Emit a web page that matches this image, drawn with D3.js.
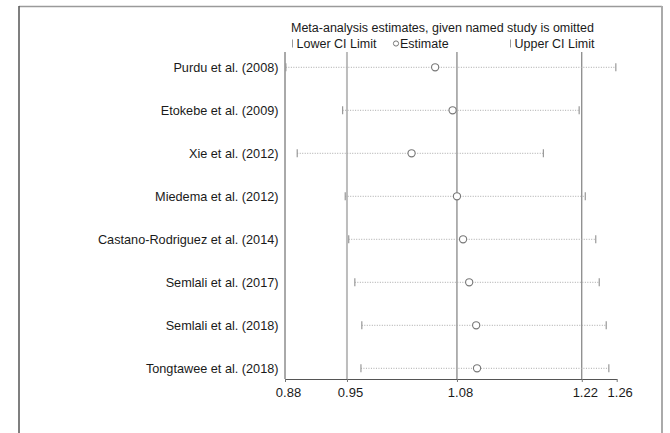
<!DOCTYPE html>
<html>
<head>
<meta charset="utf-8">
<script src="https://cdn.jsdelivr.net/npm/d3@7"></script>
<style>
  html, body { margin: 0; padding: 0; background: #fff; }
  svg { display: block; font-family: "Liberation Sans", Arial, sans-serif; }
</style>
</head>
<body>
<svg id="chart" width="670" height="433"></svg>
<script>
// Leave-one-out influence analysis: pooled estimate when each study is omitted
const studies = [
  "Purdu et al. (2008)",
  "Etokebe et al. (2009)",
  "Xie et al. (2012)",
  "Miedema et al. (2012)",
  "Castano-Rodriguez et al. (2014)",
  "Semlali et al. (2017)",
  "Semlali et al. (2018)",
  "Tongtawee et al. (2018)"
];
const estimates = [1.052, 1.072, 1.025, 1.077, 1.084, 1.091, 1.099, 1.100];
const lowerCI   = [0.881, 0.946, 0.894, 0.949, 0.953, 0.960, 0.968, 0.967];
const upperCI   = [1.259, 1.217, 1.176, 1.224, 1.236, 1.240, 1.248, 1.251];

// Overall pooled estimate and its confidence limits (reference lines)
const pooled = [0.951, 1.077, 1.220];
// Axis ticks: range ends plus the pooled values
const tickValues = [0.88, 0.951, 1.077, 1.220, 1.26];

const title = "Meta-analysis estimates, given named study is omitted";
const legendLabels = ["Lower CI Limit", "Estimate", "Upper CI Limit"];

const svg = d3.select("#chart");
const textColor = "#1a1a1a";

// Outer frame
svg.append("line").attr("x1", 19).attr("x2", 662).attr("y1", 6.5).attr("y2", 6.5)
  .attr("stroke", "#9a9a9a").attr("stroke-width", 1.5);
svg.append("line").attr("x1", 19).attr("x2", 19).attr("y1", 6).attr("y2", 433)
  .attr("stroke", "#555").attr("stroke-width", 1.5);
svg.append("line").attr("x1", 662).attr("x2", 662).attr("y1", 6).attr("y2", 433)
  .attr("stroke", "#aaa").attr("stroke-width", 2);

const x = d3.scaleLinear().domain([0.88, 1.26]).range([285, 616.7]);
const y = d3.scalePoint().domain(studies).range([67.3, 368.3]);
const plotTop = 52;
const axisY = 379;

// Reference lines at the pooled estimate and CI limits
svg.append("g").selectAll("line")
  .data(pooled)
  .join("line")
  .attr("x1", d => x(d)).attr("x2", d => x(d))
  .attr("y1", plotTop).attr("y2", axisY)
  .attr("stroke", (d, i) => i === 0 ? "#bdbdbd" : "#666")
  .attr("stroke-width", (d, i) => i === 0 ? 2 : 1);

// Left boundary line
svg.append("line")
  .attr("x1", x(0.88)).attr("x2", x(0.88))
  .attr("y1", plotTop).attr("y2", axisY)
  .attr("stroke", "#555").attr("stroke-width", 1);

// Bottom axis
const axis = d3.axisBottom(x)
  .tickValues(tickValues)
  .tickFormat(d3.format(".2f"))
  .tickSize(3)
  .tickSizeOuter(0);
const gAxis = svg.append("g")
  .attr("transform", `translate(0,${axisY})`)
  .call(axis);
gAxis.select(".domain").attr("stroke", "#555");
gAxis.selectAll(".tick line").attr("stroke", "#777");
gAxis.selectAll(".tick text")
  .attr("fill", textColor)
  .attr("font-size", 13)
  .attr("font-family", "'Liberation Sans', Arial, sans-serif")
  .attr("dx", 3)
  .attr("dy", "0.95em");

const rows = studies.map((s, i) => ({ s, est: estimates[i], lo: lowerCI[i], hi: upperCI[i] }));

// CI whiskers
const gRows = svg.append("g");
gRows.selectAll("line.ci")
  .data(rows)
  .join("line")
  .attr("class", "ci")
  .attr("x1", d => x(d.lo)).attr("x2", d => x(d.hi))
  .attr("y1", d => y(d.s)).attr("y2", d => y(d.s))
  .attr("stroke", "#a8a8a8").attr("stroke-width", 1)
  .attr("stroke-dasharray", "1,1.5");

// CI end caps
["lo", "hi"].forEach(k => {
  gRows.selectAll(`line.cap-${k}`)
    .data(rows)
    .join("line")
    .attr("class", `cap-${k}`)
    .attr("x1", d => x(d[k])).attr("x2", d => x(d[k]))
    .attr("y1", d => y(d.s) - 4).attr("y2", d => y(d.s) + 4)
    .attr("stroke", "#999").attr("stroke-width", 1.2);
});

// Estimates
gRows.selectAll("circle")
  .data(rows)
  .join("circle")
  .attr("cx", d => x(d.est)).attr("cy", d => y(d.s))
  .attr("r", 3.6)
  .attr("fill", "#fff").attr("stroke", "#777").attr("stroke-width", 1.1);

// Study labels
svg.append("g").selectAll("text")
  .data(studies)
  .join("text")
  .attr("x", 278.5).attr("y", d => y(d))
  .attr("dy", "0.35em")
  .attr("text-anchor", "end")
  .attr("font-size", 12.7)
  .attr("fill", textColor)
  .text(d => d);

// Title
svg.append("text")
  .attr("x", 291).attr("y", 27.5).attr("dy", "0.35em")
  .attr("font-size", 12.5).attr("fill", textColor)
  .text(title);

// Legend
const legY = 43.5;
svg.append("line").attr("x1", 292.5).attr("x2", 292.5).attr("y1", legY - 4).attr("y2", legY + 4)
  .attr("stroke", "#999").attr("stroke-width", 1);
svg.append("circle").attr("cx", 396).attr("cy", legY).attr("r", 2.6)
  .attr("fill", "#fff").attr("stroke", "#777").attr("stroke-width", 1);
svg.append("line").attr("x1", 510.5).attr("x2", 510.5).attr("y1", legY - 4).attr("y2", legY + 4)
  .attr("stroke", "#999").attr("stroke-width", 1);
const legX = [296.5, 400, 514.5];
svg.append("g").selectAll("text")
  .data(legendLabels)
  .join("text")
  .attr("x", (d, i) => legX[i]).attr("y", legY).attr("dy", "0.35em")
  .attr("font-size", 12.5).attr("fill", textColor)
  .text(d => d);
</script>
</body>
</html>
